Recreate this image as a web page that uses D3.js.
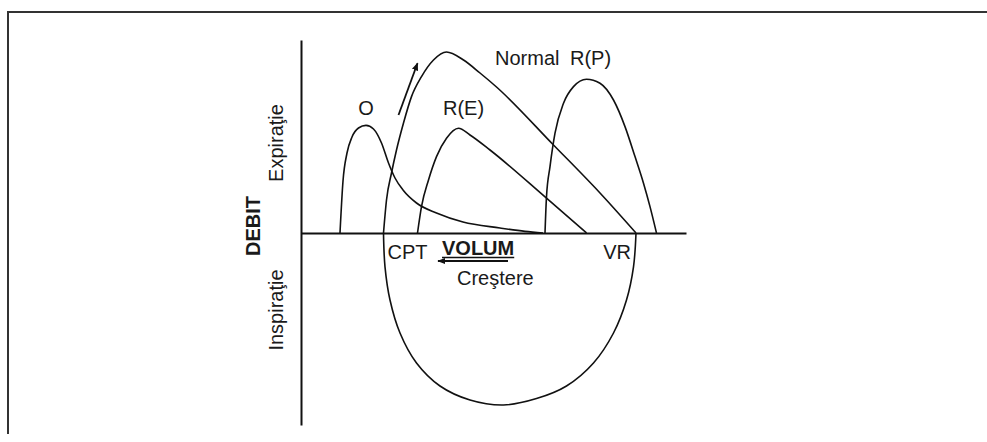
<!DOCTYPE html>
<html>
<head>
<meta charset="utf-8">
<script src="https://cdnjs.cloudflare.com/ajax/libs/d3/7.8.5/d3.min.js"></script>
<style>
  body { margin: 0; background: #fff; }
  svg text { font-family: "Liberation Sans", Arial, sans-serif; fill: #1a1a1a; }
</style>
</head>
<body>
<script>
/**
  Flow-volume loops (debit / volum): normal, obstructive (O),
  restrictive extrapulmonary (R(E)) and parenchymal (R(P)).
  Volume runs from VR (right) to CPT (left), flow is expiration up.
*/

// volume (L) and flow (L/s)
var normalVol = [6.05, 5.99, 5.89, 5.79, 5.65, 5.49, 5.29, 5.05, 4.79, 4.45, 4.12, 3.79, 2.65, 1.72, 1.0];
var normalFlow = [0, 1.65, 3.0, 4.15, 5.5, 6.82, 7.82, 8.65, 9.05, 8.65, 8.0, 7.3, 4.4, 2.0, 0];

var obstrVol = [6.92, 6.86, 6.78, 6.68, 6.55, 6.4, 6.25, 6.09, 5.95, 5.82, 5.66, 5.39, 4.99, 4.46, 3.72, 3.22, 2.86];
var obstrFlow = [0, 2.6, 4.0, 4.8, 5.25, 5.38, 5.2, 4.5, 3.5, 2.75, 2.15, 1.5, 1.0, 0.55, 0.25, 0.08, 0];

var restrEVol = [5.37, 5.29, 5.15, 4.99, 4.79, 4.55, 4.32, 3.92, 2.79, 1.99];
var restrEFlow = [0, 1.32, 2.65, 3.82, 4.74, 5.24, 4.9, 4.15, 1.74, 0];

var restrPVol = [2.82, 2.79, 2.72, 2.62, 2.45, 2.25, 1.99, 1.72, 1.45, 1.22, 1.02, 0.85, 0.72, 0.59];
var restrPFlow = [0, 1.82, 3.32, 4.99, 6.49, 7.32, 7.69, 7.49, 6.65, 5.32, 3.82, 2.49, 1.32, 0];

var inspVol = [6.05, 6.02, 5.92, 5.72, 5.39, 4.92, 4.32, 3.65, 2.99, 2.39, 1.85, 1.45, 1.19, 1.05, 1.0];
var inspFlow = [0, -1.69, -3.35, -5.0, -6.5, -7.65, -8.35, -8.6, -8.28, -7.65, -6.5, -5.0, -3.35, -1.69, 0];

var cptVol = 6.05;
var vrVol = 1.0;

window.onload = function() {
  drawChart();
};

function zip(vol, flow) {
  return vol.map(function(v, i) { return [v, flow[i]]; });
}

function drawChart() {
  var width = 987, height = 442;

  var svg = d3.select("body").append("svg")
      .attr("width", width)
      .attr("height", height);

  // volume grows to the left
  var x = d3.scaleLinear().domain([7.7, 0]).range([301, 686]);
  var y = d3.scaleLinear().domain([-9.6, 9.65]).range([425, 40]);

  // frame: top and left border of the figure box
  svg.append("line")
      .attr("x1", 8).attr("y1", 12).attr("x2", width).attr("y2", 12)
      .style("stroke", "#333").style("stroke-width", 2);
  svg.append("line")
      .attr("x1", 8).attr("y1", 11).attr("x2", 8).attr("y2", 434)
      .style("stroke", "#333").style("stroke-width", 2);

  var defs = svg.append("defs");
  defs.append("marker")
      .attr("id", "head")
      .attr("viewBox", "0 0 10 10")
      .attr("refX", 9).attr("refY", 5)
      .attr("markerWidth", 8).attr("markerHeight", 8)
      .attr("markerUnits", "userSpaceOnUse")
      .attr("orient", "auto")
    .append("path")
      .attr("d", "M0,1 L10,5 L0,9 Z")
      .style("fill", "#111");

  // axes without ticks
  svg.append("g")
      .attr("class", "y axis")
      .attr("transform", "translate(" + x(7.7) + ",0)")
      .call(d3.axisLeft(y).tickValues([]).tickSizeOuter(0))
      .select(".domain").style("stroke", "#111").style("stroke-width", 2);

  svg.append("g")
      .attr("class", "x axis")
      .attr("transform", "translate(0," + y(0) + ")")
      .call(d3.axisBottom(x).tickValues([]).tickSizeOuter(0))
      .select(".domain").style("stroke", "#111").style("stroke-width", 2);

  // expiration curves are monotone in screen x, so monotoneX keeps peaks round;
  // the inspiration half-loop looks smoother with catmull-rom
  var line = d3.line()
      .x(function(d) { return x(d[0]); })
      .y(function(d) { return y(d[1]); })
      .curve(d3.curveMonotoneX);
  var loopLine = d3.line()
      .x(function(d) { return x(d[0]); })
      .y(function(d) { return y(d[1]); })
      .curve(d3.curveCatmullRom.alpha(0.5));

  var curves = [
    {pts: zip(normalVol, normalFlow), gen: line},
    {pts: zip(obstrVol, obstrFlow), gen: line},
    {pts: zip(restrEVol, restrEFlow), gen: line},
    {pts: zip(restrPVol, restrPFlow), gen: line},
    {pts: zip(inspVol, inspFlow), gen: loopLine}
  ];

  svg.selectAll(".loop")
      .data(curves)
    .enter().append("path")
      .attr("class", "loop")
      .attr("d", function(d) { return d.gen(d.pts); })
      .style("fill", "none")
      .style("stroke", "#111")
      .style("stroke-width", 1.6);

  // arrow next to the rising normal curve
  svg.append("line")
      .attr("x1", x(5.75)).attr("y1", y(5.9))
      .attr("x2", x(5.37)).attr("y2", y(8.49))
      .style("stroke", "#111").style("stroke-width", 1.8)
      .attr("marker-end", "url(#head)");

  // curve labels
  var labels = [
    {t: "O", v: 6.4, f: 5.9, a: "middle"},
    {t: "R(E)", v: 4.86, f: 5.9, a: "start"},
    {t: "Normal", v: 3.82, f: 8.4, a: "start"},
    {t: "R(P)", v: 2.32, f: 8.4, a: "start"},
    {t: "CPT", v: cptVol - 0.08, f: -1.3, a: "start"},
    {t: "VR", v: vrVol + 0.1, f: -1.3, a: "end"},
    {t: "Creştere", v: 4.58, f: -2.6, a: "start"}
  ];

  svg.selectAll(".label")
      .data(labels)
    .enter().append("text")
      .attr("class", "label")
      .attr("x", function(d) { return x(d.v); })
      .attr("y", function(d) { return y(d.f); })
      .style("text-anchor", function(d) { return d.a; })
      .style("font-size", "20px")
      .text(function(d) { return d.t; });

  // VOLUM, underlined, with the "increase" arrow under it
  var volum = svg.append("text")
      .attr("x", x(4.88))
      .attr("y", y(-1.1))
      .style("font-size", "20px")
      .style("font-weight", "bold")
      .text("VOLUM");
  var bb = volum.node().getBBox();
  svg.append("line")
      .attr("x1", bb.x).attr("x2", bb.x + bb.width)
      .attr("y1", y(-1.23)).attr("y2", y(-1.23))
      .style("stroke", "#111").style("stroke-width", 1.5);
  svg.append("line")
      .attr("x1", x(3.56)).attr("y1", y(-1.4))
      .attr("x2", x(4.96)).attr("y2", y(-1.4))
      .style("stroke", "#111").style("stroke-width", 1.8)
      .attr("marker-end", "url(#head)");

  // rotated labels on the flow axis
  var side = [
    {t: "Expiraţie", f: 4.5, bx: 283, w: "normal"},
    {t: "DEBIT", f: 0.35, bx: 260, w: "bold"},
    {t: "Inspiraţie", f: -3.85, bx: 283, w: "normal"}
  ];

  svg.selectAll(".side")
      .data(side)
    .enter().append("text")
      .attr("class", "side")
      .attr("transform", function(d) {
        return "translate(" + d.bx + "," + y(d.f) + ") rotate(-90)";
      })
      .style("text-anchor", "middle")
      .style("font-size", "20px")
      .style("font-weight", function(d) { return d.w; })
      .text(function(d) { return d.t; });
}
</script>
</body>
</html>
